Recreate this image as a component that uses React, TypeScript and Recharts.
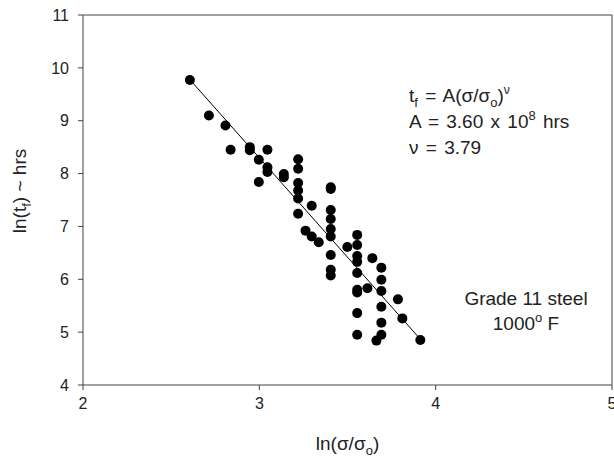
import React from "react";
import { ScatterChart, Scatter, XAxis, YAxis, ReferenceLine, Label } from "recharts";

// ln(sigma/sigma_o) and ln(t_f)
const stressLn = [
  2.606, 2.714, 2.808, 2.837, 2.946, 2.946, 3.046, 2.997, 3.046, 3.046,
  2.997, 3.139, 3.139, 3.22, 3.22, 3.22, 3.22, 3.22, 3.22, 3.297,
  3.405, 3.405, 3.405, 3.405, 3.405, 3.405, 3.405, 3.405, 3.405, 3.262,
  3.297, 3.337, 3.499, 3.555, 3.555, 3.555, 3.555, 3.555, 3.555, 3.555,
  3.555, 3.555, 3.641, 3.613, 3.692, 3.692, 3.692, 3.692, 3.692, 3.692,
  3.664, 3.786, 3.811, 3.913,
];
const lifeLn = [
  9.77, 9.1, 8.91, 8.45, 8.5, 8.44, 8.45, 8.26, 8.12, 8.03,
  7.84, 7.99, 7.93, 8.27, 8.09, 7.82, 7.68, 7.53, 7.24, 7.39,
  7.74, 7.71, 7.31, 7.14, 6.95, 6.81, 6.46, 6.18, 6.07, 6.92,
  6.81, 6.7, 6.61, 6.84, 6.65, 6.44, 6.33, 6.12, 5.8, 5.75,
  5.36, 4.95, 6.4, 5.83, 6.22, 5.99, 5.78, 5.48, 5.18, 4.95,
  4.84, 5.62, 5.26, 4.85,
];

// fitted line end points
const fitStressLn = [2.6, 3.92];
const fitLifeLn = [9.8, 4.84];

const xTicks = [2, 3, 4, 5];
const yTicks = [4, 5, 6, 7, 8, 9, 10, 11];

const points = stressLn.map((x, i) => ({ x, y: lifeLn[i] }));
const fitLine = fitStressLn.map((x, i) => ({ x, y: fitLifeLn[i] }));

const AXIS = "#444";
const TEXT = "#222";
const FONT = "Arial, 'Liberation Sans', sans-serif";

const Dot = (props: any) => <circle cx={props.cx} cy={props.cy} r={5} fill="#000" />;
const NoDot = () => null;

const XTitle = (props: any) => {
  const vb = props.viewBox;
  const cx = vb.x + vb.width / 2;
  return (
    <text x={cx} y={450} textAnchor="middle" fontSize={19} fill={TEXT} fontFamily={FONT}>
      ln(σ/σ<tspan dy={5} fontSize={13}>o</tspan>
      <tspan dy={-5}>)</tspan>
    </text>
  );
};

const YTitle = () => (
  <text
    x={26}
    y={191}
    transform="rotate(-90, 26, 191)"
    textAnchor="middle"
    fontSize={19}
    fill={TEXT}
    fontFamily={FONT}
  >
    ln(t<tspan dy={5} fontSize={13}>f</tspan>
    <tspan dy={-5}>) ~ hrs</tspan>
  </text>
);

const Notes = () => (
  <svg
    width={614}
    height={461}
    style={{ position: "absolute", left: 0, top: 0, pointerEvents: "none" }}
    fontFamily={FONT}
    fill={TEXT}
  >
    <g fontSize={19} wordSpacing={2}>
      <text x={409} y={101.5}>
        t<tspan dy={5} fontSize={13}>f</tspan>
        <tspan dy={-5}> = A(σ/σ</tspan>
        <tspan dy={5} fontSize={13}>o</tspan>
        <tspan dy={-5}>)</tspan>
        <tspan dy={-8} fontSize={12}>ν</tspan>
      </text>
      <text x={409} y={127.5}>
        A = 3.60 x 10<tspan dy={-8} fontSize={13}>8</tspan>
        <tspan dy={8}> hrs</tspan>
      </text>
      <text x={409} y={154}>
        ν = 3.79
      </text>
    </g>
    <text x={526} y={305} fontSize={19} textAnchor="middle">
      Grade 11 steel
    </text>
    <text x={526} y={330} fontSize={19} textAnchor="middle">
      1000<tspan dy={-8} fontSize={13}>o</tspan>
      <tspan dy={8}> F</tspan>
    </text>
  </svg>
);

export default function App() {
  return (
    <div style={{ position: "relative", width: 614, height: 461, background: "#fff" }}>
      <style>{`html, body { margin: 0; padding: 0; overflow: hidden; }`}</style>
      <ScatterChart width={614} height={461} margin={{ top: 15, right: 1, left: 0, bottom: 16 }}>
        <XAxis
          type="number"
          dataKey="x"
          domain={[2, 5]}
          ticks={xTicks}
          interval={0}
          allowDataOverflow
          height={60}
          stroke={AXIS}
          tickSize={5}
          tickMargin={8}
          tick={{ fill: TEXT, fontSize: 16, fontFamily: FONT }}
        >
          <Label content={XTitle} />
        </XAxis>
        <YAxis
          type="number"
          dataKey="y"
          domain={[4, 11]}
          ticks={yTicks}
          interval={0}
          allowDataOverflow
          width={83}
          stroke={AXIS}
          tickSize={5}
          tickMargin={9}
          tick={{ fill: TEXT, fontSize: 16, fontFamily: FONT }}
        >
          <Label content={YTitle} />
        </YAxis>
        {/* right frame edge */}
        <YAxis
          yAxisId="frame"
          orientation="right"
          type="number"
          domain={[4, 11]}
          ticks={yTicks}
          allowDataOverflow
          width={1}
          stroke={AXIS}
          tick={false}
          tickLine={false}
        />
        <ReferenceLine y={11} stroke={AXIS} ifOverflow="visible" />
        <Scatter
          data={fitLine}
          line={{ stroke: "#000", strokeWidth: 1 }}
          shape={NoDot}
          isAnimationActive={false}
        />
        <Scatter data={points} shape={Dot} isAnimationActive={false} />
      </ScatterChart>
      <Notes />
    </div>
  );
}
